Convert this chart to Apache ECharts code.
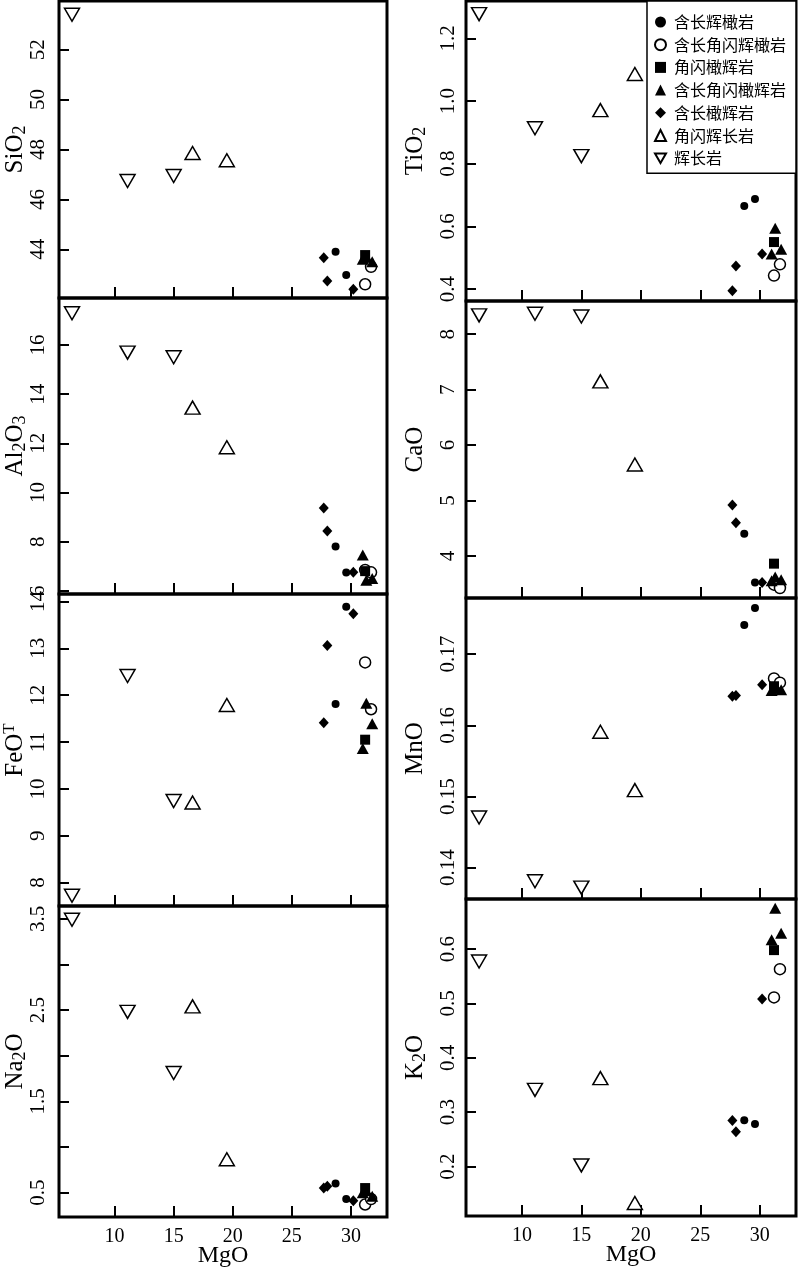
<!DOCTYPE html>
<html><head><meta charset="utf-8">
<script src="https://cdn.jsdelivr.net/npm/echarts@6/dist/echarts.min.js"></script>
<style>html,body{margin:0;padding:0;background:#fff}#c{width:800px;height:1268px}</style>
</head><body><div id="c"></div>
<script>
// ---- data ----
const groupNames = ['含长辉橄岩','含长角闪辉橄岩','角闪橄辉岩','含长角闪橄辉岩','含长橄辉岩','角闪辉长岩','辉长岩'];
// MgO per group (sample order shared by every oxide array below)
const mgo   = [[28.7,29.6],[31.2,31.7],[31.2],[31.0,31.3,31.8],[27.7,28.0,30.2],[16.6,19.5],[6.4,11.1,15.0]];
const sio2  = [[43.9,42.97],[42.6,43.3],[43.77],[43.6,43.7,43.5],[43.66,42.73,42.4],[47.86,47.57],[53.4,46.74,46.94]];
const tio2  = [[0.665,0.687],[0.443,0.479],[0.55],[0.512,0.594,0.527],[0.395,0.474,0.512],[0.971,1.086],[1.277,0.913,0.824]];
const al2o3 = [[7.8,6.74],[6.85,6.75],[6.8],[7.46,6.43,6.5],[9.37,8.43,6.75],[13.45,11.84],[17.29,15.69,15.5]];
const cao   = [[4.4,3.52],[3.48,3.42],[3.86],[3.55,3.62,3.57],[4.92,4.6,3.52],[7.15,5.65],[8.34,8.37,8.32]];
const feot  = [[11.81,13.89],[12.7,11.7],[11.05],[10.86,11.83,11.39],[11.41,13.06,13.74],[9.71,11.79],[7.72,12.41,9.74]];
const mno   = [[0.1741,0.1765],[0.1666,0.1660],[0.1655],[0.1649,0.1652,0.1650],[0.1641,0.1642,0.1657],[0.1591,0.1509],[0.14705,0.1381,0.1372]];
const na2o  = [[0.6,0.43],[0.37,0.43],[0.55],[0.5,0.52,0.46],[0.55,0.57,0.41],[2.54,0.865],[3.49,2.48,1.81]];
const k2o   = [[0.285,0.278],[0.511,0.563],[0.598],[0.617,0.675,0.629],[0.2846,0.264,0.508],[0.3625,0.133],[0.577,0.341,0.202]];
// tick labels
const xTickLabels     = ['10','15','20','25','30'];
const sio2TickLabels  = ['44','46','48','50','52'];
const tio2TickLabels  = ['0.4','0.6','0.8','1.0','1.2'];
const al2o3TickLabels = ['6','8','10','12','14','16'];
const caoTickLabels   = ['4','5','6','7','8'];
const feotTickLabels  = ['8','9','10','11','12','13','14'];
const mnoTickLabels   = ['0.14','0.15','0.16','0.17'];
const na2oTicks       = [0.5,1.0,1.5,2.0,2.5,3.0,3.5];
const na2oTickLabels  = ['0.5','1.5','2.5','3.5'];
const k2oTickLabels   = ['0.2','0.3','0.4','0.5','0.6'];

// ---- layout / style ----
const SERIF = 'Liberation Serif';
const xRange = [5.3, 33.05];
const panels = [
  {vals:sio2,  col:0, top:1,   h:297, ymin:42.05, ymax:53.95, labels:sio2TickLabels,  name:'{n|SiO}{sub|2}', last:false},
  {vals:al2o3, col:0, top:298, h:296, ymin:5.87,  ymax:17.91, labels:al2o3TickLabels, name:'{n|Al}{sub|2}{n|O}{sub|3}', last:false},
  {vals:feot,  col:0, top:594, h:312, ymin:7.5,   ymax:14.16, labels:feotTickLabels,  name:'{n|FeO}{sup|T}', last:false},
  {vals:na2o,  col:0, top:906, h:311, ymin:0.233, ymax:3.64,  labels:na2oTickLabels,  ticks:na2oTicks, name:'{n|Na}{sub|2}{n|O}', last:true},
  {vals:tio2,  col:1, top:1,   h:300, ymin:0.362, ymax:1.319, labels:tio2TickLabels,  name:'{n|TiO}{sub|2}', last:false},
  {vals:cao,   col:1, top:301, h:297, ymin:3.24,  ymax:8.6,   labels:caoTickLabels,   name:'{n|CaO}', last:false},
  {vals:mno,   col:1, top:598, h:301, ymin:0.1356,ymax:0.1779,labels:mnoTickLabels,   name:'{n|MnO}', last:false},
  {vals:k2o,   col:1, top:899, h:317, ymin:0.109, ymax:0.692, labels:k2oTickLabels,   name:'{n|K}{sub|2}{n|O}', last:true}
];
const colLeft = [59, 466], colWidth = [328, 330];
const nameGaps = [30, 37];
const symbolStyles = [
  {symbol:'circle',   size:8,       rotate:0,   fill:'#000', bw:0},
  {symbol:'circle',   size:11,      rotate:0,   fill:'#fff', bw:1.5},
  {symbol:'rect',     size:10,      rotate:0,   fill:'#000', bw:0},
  {symbol:'triangle', size:[12,11], rotate:0,   fill:'#000', bw:0},
  {symbol:'diamond',  size:[10,11], rotate:0,   fill:'#000', bw:0},
  {symbol:'triangle', size:[15,13], rotate:0,   fill:'#fff', bw:1.5},
  {symbol:'triangle', size:[15,13], rotate:180, fill:'#fff', bw:1.5}
];
const rich = {
  n:   {fontFamily:SERIF, fontSize:25, color:'#000', lineHeight:28, verticalAlign:'middle'},
  sub: {fontFamily:SERIF, fontSize:18, color:'#000', lineHeight:18, verticalAlign:'bottom'},
  sup: {fontFamily:SERIF, fontSize:17, color:'#000', lineHeight:17, verticalAlign:'top'}
};

const grid = [], xAxis = [], yAxis = [], series = [];
panels.forEach((p, i) => {
  grid.push({left:colLeft[p.col], width:colWidth[p.col], top:p.top, height:p.h,
    containLabel:false, outerBoundsMode:'none',
    show:true, borderColor:'#000', borderWidth:3, backgroundColor:'transparent'});
  xAxis.push({type:'value', gridIndex:i, min:xRange[0], max:xRange[1],
    axisLine:{show:false}, splitLine:{show:false},
    axisTick:{show:true, inside:true, length:11, lineStyle:{color:'#000', width:2}, customValues:xTickLabels.map(Number)},
    axisLabel:{show:p.last, customValues:xTickLabels.map(Number), margin:10,
      fontFamily:SERIF, fontSize:20, color:'#000', formatter:v => String(Math.round(v))},
    name:p.last ? 'MgO' : '', nameLocation:'middle', nameGap:27, nameMoveOverlap:false,
    nameTextStyle:{fontFamily:SERIF, fontSize:24, color:'#000'}
  });
  const lv = p.labels.map(Number);
  yAxis.push({type:'value', gridIndex:i, min:p.ymin, max:p.ymax,
    axisLine:{show:false}, splitLine:{show:false},
    axisTick:{show:true, inside:true, length:10, lineStyle:{color:'#000', width:2}, customValues:p.ticks || lv},
    axisLabel:{show:true, customValues:lv, rotate:90, margin:p.col ? 7 : 10,
      fontFamily:SERIF, fontSize:21, color:'#000',
      formatter:v => { const k = lv.findIndex(x => Math.abs(x - v) < 1e-9); return k >= 0 ? p.labels[k] : ''; }},
    name:p.name, nameLocation:'middle', nameRotate:90, nameGap:nameGaps[p.col], nameMoveOverlap:false,
    nameTextStyle:{rich:rich, fontFamily:SERIF, fontSize:25, color:'#000'}
  });
  groupNames.forEach((g, gi) => {
    const st = symbolStyles[gi];
    series.push({type:'scatter', name:g, xAxisIndex:i, yAxisIndex:i, clip:false,
      symbol:st.symbol, symbolSize:st.size, symbolRotate:st.rotate,
      itemStyle:{color:st.fill, borderColor:'#000', borderWidth:st.bw, opacity:1},
      emphasis:{disabled:true},
      data:mgo[gi].map((m, k) => [m, p.vals[gi][k]])
    });
  });
});

const legendData = groupNames.map((g, gi) =>
  gi === 6 ? {name:g, icon:'path://M0,0L12,0L6,10.4Z'} : {name:g});

const chart = echarts.init(document.getElementById('c'), null, {renderer:'canvas'});
chart.setOption({
  animation:false,
  backgroundColor:'#fff',
  grid, xAxis, yAxis, series,
  legend:{
    data:legendData, orient:'vertical', right:4, top:1,
    itemWidth:11, itemHeight:11, itemGap:6.7,
    padding:[13, 10, 7, 7],
    backgroundColor:'#fff', borderColor:'#000', borderWidth:1.5,
    selectedMode:false,
    textStyle:{fontFamily:'Noto Sans CJK SC', fontSize:16, color:'#000', lineHeight:14, padding:[0,0,0,3]}
  }
});
</script></body></html>
